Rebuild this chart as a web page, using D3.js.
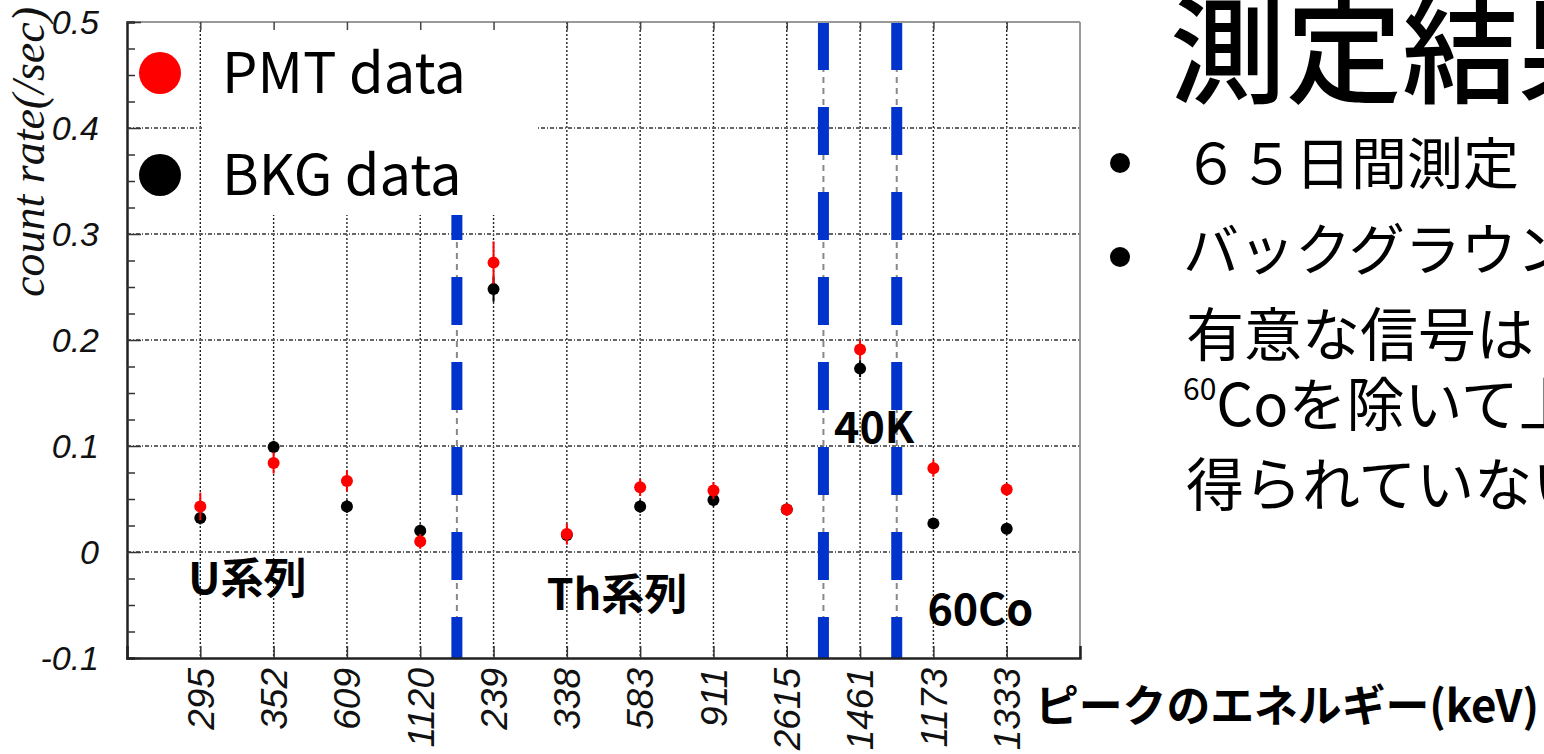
<!DOCTYPE html>
<html>
<head>
<meta charset="utf-8">
<script src="https://cdn.jsdelivr.net/npm/d3@7"></script>
<style>
  body { margin: 0; background: #fff; }
  svg { display: block; }
  .tick-label { font-family: "Liberation Sans", Arial, sans-serif; font-style: italic; fill: #111; }
  .jp { font-family: "Noto Sans CJK JP", "Noto Sans", sans-serif; fill: #000; }
</style>
</head>
<body>
<div id="chart"></div>
<script>
// Peak energies (keV), in plotting order
const categories = ["295", "352", "609", "1120", "239", "338", "583", "911", "2615", "1461", "1173", "1333"];

// Count rates (/sec)
const pmtRate = [0.043, 0.084, 0.067, 0.010, 0.273, 0.017, 0.061, 0.058, 0.040, 0.191, 0.079, 0.059];
const pmtErr  = [0.013, 0.010, 0.010, 0.007, 0.020, 0.010, 0.008, 0.008, 0.006, 0.009, 0.008, 0.006];
const bkgRate = [0.032, 0.099, 0.043, 0.020, 0.248, 0.016, 0.043, 0.049, 0.040, 0.173, 0.027, 0.022];
const bkgErr  = [0.006, 0.006, 0.006, 0.006, 0.012, 0.006, 0.006, 0.006, 0.005, 0.008, 0.005, 0.005];

// Y ticks and group dividers (divider sits after these peaks)
const yTicks = [-0.1, 0, 0.1, 0.2, 0.3, 0.4, 0.5];
const dividerAfter = ["1120", "2615", "1461"];

const WIDTH = 1544;
const HEIGHT = 754;

const svg = d3.select("#chart")
  .append("svg")
  .attr("width", WIDTH)
  .attr("height", HEIGHT);

// Scales: category i sits at i + 1
const x = d3.scaleLinear().domain([0, categories.length + 1]).range([127, 1080]);
const y = d3.scaleLinear().domain([-0.1, 0.5]).range([658, 22]);
const xPos = (c) => x(categories.indexOf(c) + 1);

// Grid
const grid = svg.append("g");
grid.selectAll(".vgrid")
  .data(categories)
  .enter()
  .append("line")
  .attr("x1", (d) => xPos(d))
  .attr("x2", (d) => xPos(d))
  .attr("y1", y(0.5))
  .attr("y2", y(-0.1))
  .attr("stroke", "#222")
  .attr("stroke-width", 1.4)
  .attr("stroke-dasharray", "2,2");

grid.selectAll(".hgrid")
  .data(yTicks.slice(1, -1))
  .enter()
  .append("line")
  .attr("x1", x(0))
  .attr("x2", x(categories.length + 1))
  .attr("y1", (d) => y(d))
  .attr("y2", (d) => y(d))
  .attr("stroke", "#666")
  .attr("stroke-width", 1.8)
  .attr("stroke-dasharray", "4,2,1,2");

// Group dividers: gray dashes under thick blue dashes
const divX = (c) => x(categories.indexOf(c) + 1.5);
grid.selectAll(".div-gray")
  .data(dividerAfter)
  .enter()
  .append("line")
  .attr("x1", divX).attr("x2", divX)
  .attr("y1", y(0.5)).attr("y2", y(-0.1))
  .attr("stroke", "#888")
  .attr("stroke-width", 2)
  .attr("stroke-dasharray", "6,5");

grid.selectAll(".div-blue")
  .data(dividerAfter)
  .enter()
  .append("line")
  .attr("x1", divX).attr("x2", divX)
  .attr("y1", y(0.5)).attr("y2", y(-0.1))
  .attr("stroke", "#0033cc")
  .attr("stroke-width", 11)
  .attr("stroke-dasharray", "48,37");

// Legend box (covers grid)
svg.append("rect")
  .attr("x", 202).attr("y", y(0.5) + 1)
  .attr("width", 336).attr("height", 192)
  .attr("fill", "#fff");

// Frame
svg.append("line").attr("x1", x(0)).attr("x2", x(13)).attr("y1", y(0.5)).attr("y2", y(0.5))
  .attr("stroke", "#999").attr("stroke-width", 2);
svg.append("line").attr("x1", x(13)).attr("x2", x(13)).attr("y1", y(0.5)).attr("y2", y(-0.1))
  .attr("stroke", "#999").attr("stroke-width", 2);

// Y axis with inner ticks
const yAxis = d3.axisRight(y)
  .tickValues(d3.range(-0.1, 0.5001, 0.025))
  .tickSize(8)
  .tickFormat("");
const yG = svg.append("g").attr("transform", `translate(${x(0)},0)`).call(yAxis);
yG.select(".domain").attr("stroke", "#222").attr("stroke-width", 2.5);
yG.selectAll(".tick line").attr("stroke", "#333").attr("stroke-width", 1.5)
  .attr("x2", (d) => (Math.abs(d * 10 - Math.round(d * 10)) < 1e-6 ? 14 : 8));

svg.selectAll(".ylab")
  .data(yTicks)
  .enter()
  .append("text")
  .attr("class", "tick-label")
  .attr("x", 99)
  .attr("y", (d) => y(d))
  .attr("dy", "0.36em")
  .attr("text-anchor", "end")
  .attr("font-size", 34)
  .text((d) => (d === 0 ? "0" : d.toFixed(1)));

// X axis with inner ticks
const xAxis = d3.axisTop(x)
  .tickValues(d3.range(1, categories.length + 1))
  .tickSize(12)
  .tickFormat("");
const xG = svg.append("g").attr("transform", `translate(0,${y(-0.1)})`).call(xAxis);
xG.select(".domain").attr("stroke", "#222").attr("stroke-width", 2.5);
xG.selectAll(".tick line").attr("stroke", "#333").attr("stroke-width", 1.5);

svg.append("g")
  .attr("transform", `translate(0,${y(0.5)})`)
  .call(d3.axisBottom(x).tickValues(d3.range(1, categories.length + 1)).tickSize(8).tickFormat(""))
  .call((g) => g.select(".domain").remove())
  .selectAll(".tick line").attr("stroke", "#444").attr("stroke-width", 1.5);

svg.selectAll(".xlab")
  .data(categories)
  .enter()
  .append("text")
  .attr("class", "tick-label")
  .attr("transform", (d) => `translate(${xPos(d)},668) rotate(-90)`)
  .attr("dy", "0.36em")
  .attr("text-anchor", "end")
  .attr("font-size", 37)
  .text((d) => d);

// Y axis title
svg.append("text")
  .attr("transform", "translate(44,152) rotate(-90)")
  .attr("text-anchor", "middle")
  .attr("font-family", "Liberation Serif, Times New Roman, serif")
  .attr("font-style", "italic")
  .attr("font-size", 46)
  .attr("fill", "#111")
  .text("count rate(/sec)");

// Error bars and points
function drawSeries(rates, errs, color) {
  const g = svg.append("g");
  g.selectAll("line")
    .data(rates)
    .enter()
    .append("line")
    .attr("x1", (d, i) => x(i + 1)).attr("x2", (d, i) => x(i + 1))
    .attr("y1", (d, i) => y(d - errs[i])).attr("y2", (d, i) => y(d + errs[i]))
    .attr("stroke", color).attr("stroke-width", 2);
  g.selectAll("circle")
    .data(rates)
    .enter()
    .append("circle")
    .attr("cx", (d, i) => x(i + 1))
    .attr("cy", (d) => y(d))
    .attr("r", 6)
    .attr("fill", color);
}
drawSeries(bkgRate, bkgErr, "#000");
drawSeries(pmtRate, pmtErr, "#ff0000");

// Legend
const legend = [{ name: "PMT data", color: "#ff0000" }, { name: "BKG data", color: "#000" }];
const lg = svg.selectAll(".legend")
  .data(legend)
  .enter()
  .append("g")
  .attr("transform", (d, i) => `translate(160,${73 + i * 102})`);
lg.append("circle").attr("r", 21).attr("fill", (d) => d.color);
lg.append("text")
  .attr("class", "jp")
  .attr("x", 62)
  .attr("y", 20)
  .attr("font-size", 56)
  .text((d) => d.name);

// Group annotations
const note = (txt, cx, cy) => svg.append("text")
  .attr("class", "jp")
  .attr("x", cx).attr("y", cy)
  .attr("font-size", 43)
  .attr("font-weight", "bold")
  .text(txt);
note("U系列", x(1) - 12, y(-0.04));
note("Th系列", x(6) - 20, y(-0.055));
note("40K", x(10) - 26, y(0.103));
note("60Co", x(11) - 6, y(-0.069));

// X axis title
svg.append("text")
  .attr("class", "jp")
  .attr("x", 1035).attr("y", 722)
  .attr("font-size", 44)
  .attr("font-weight", "bold")
  .attr("textLength", 504)
  .attr("lengthAdjust", "spacingAndGlyphs")
  .text("ピークのエネルギー(keV)");

// Slide text on the right
svg.append("text").attr("class", "jp").attr("x", 1170).attr("y", 94)
  .attr("font-size", 116).attr("font-weight", 500).text("測定結果");

svg.append("circle").attr("cx", 1120).attr("cy", 163).attr("r", 10).attr("fill", "#000");
svg.append("circle").attr("cx", 1120).attr("cy", 257).attr("r", 10).attr("fill", "#000");

svg.append("text").attr("class", "jp").attr("x", 1183).attr("y", 184)
  .attr("font-size", 56).text("６５日間測定");
svg.append("text").attr("class", "jp").attr("x", 1183).attr("y", 270)
  .attr("font-size", 56).text("バックグラウンドと比べて");
svg.append("text").attr("class", "jp").attr("x", 1186).attr("y", 356)
  .attr("font-size", 58).text("有意な信号は");
const co = svg.append("text").attr("class", "jp").attr("x", 1183).attr("y", 426)
  .attr("font-size", 58);
co.append("tspan").attr("font-size", 30).attr("dy", -26).text("60");
co.append("tspan").attr("dy", 26).text("Coを除いて上記");
svg.append("text").attr("class", "jp").attr("x", 1186).attr("y", 506)
  .attr("font-size", 58).text("得られていない");
</script>
</body>
</html>
